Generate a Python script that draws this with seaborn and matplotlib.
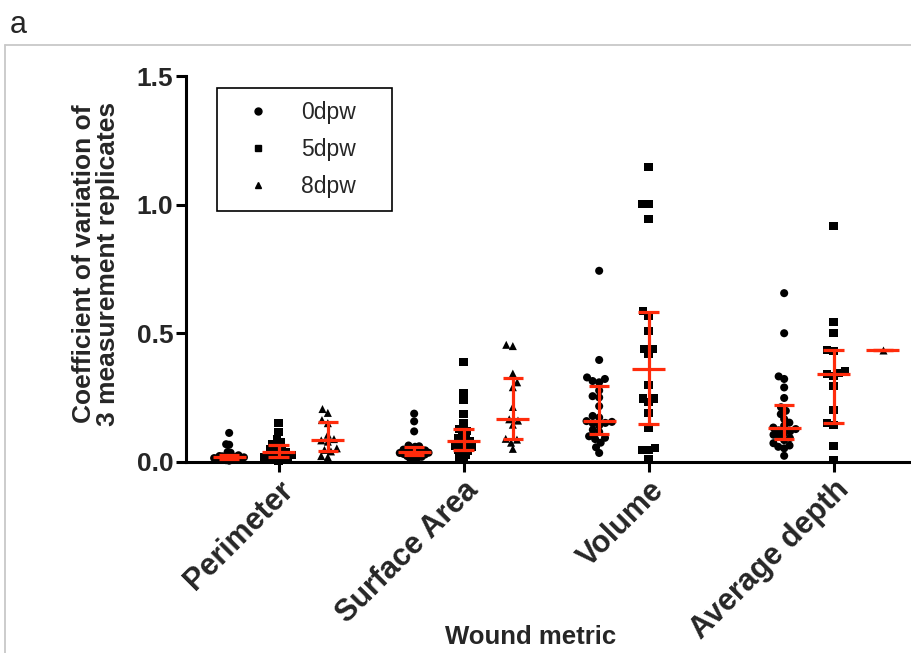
import warnings
import numpy as np
import pandas as pd
import matplotlib
matplotlib.use("Agg")
import matplotlib.pyplot as plt
from matplotlib.lines import Line2D
import seaborn as sns

warnings.filterwarnings("ignore")

# Categories and groups
metrics = ["Perimeter", "Surface Area", "Volume", "Average depth"]
days = ["0dpw", "5dpw", "8dpw"]
day_markers = {"0dpw": "o", "5dpw": "s", "8dpw": "^"}

# Coefficient of variation of 3 replicate measurements, per wound
perimeter_0dpw = [0.112, 0.068, 0.066, 0.038, 0.035, 0.027, 0.025, 0.022, 0.021, 0.019,
                  0.018, 0.017, 0.017, 0.016, 0.014, 0.013, 0.012, 0.011, 0.010, 0.009,
                  0.008, 0.007, 0.006, 0.004]
perimeter_5dpw = [0.150, 0.114, 0.088, 0.075, 0.068, 0.062, 0.055, 0.049, 0.043, 0.038,
                  0.034, 0.030, 0.026, 0.022, 0.019, 0.016, 0.013, 0.011, 0.008, 0.004]
perimeter_8dpw = [0.205, 0.190, 0.162, 0.150, 0.105, 0.088, 0.083, 0.078, 0.052, 0.046,
                  0.040, 0.022, 0.018]

surface_0dpw = [0.187, 0.157, 0.118, 0.063, 0.060, 0.058, 0.052, 0.047, 0.044, 0.041,
                0.039, 0.037, 0.035, 0.034, 0.033, 0.032, 0.030, 0.028, 0.025, 0.022,
                0.019, 0.016, 0.012, 0.008]
surface_5dpw = [0.388, 0.267, 0.241, 0.187, 0.150, 0.126, 0.118, 0.110, 0.100, 0.093,
                0.086, 0.079, 0.071, 0.066, 0.061, 0.056, 0.051, 0.047, 0.042, 0.034,
                0.026, 0.018, 0.010]
surface_8dpw = [0.455, 0.450, 0.343, 0.309, 0.290, 0.213, 0.165, 0.160, 0.144, 0.089,
                0.086, 0.074, 0.050]

volume_0dpw = [0.743, 0.396, 0.328, 0.322, 0.314, 0.309, 0.277, 0.255, 0.250, 0.216,
               0.178, 0.172, 0.158, 0.155, 0.151, 0.149, 0.141, 0.124, 0.116, 0.099,
               0.093, 0.088, 0.074, 0.056, 0.034]
volume_5dpw = [1.147, 1.002, 1.002, 0.944, 0.585, 0.569, 0.507, 0.437, 0.437, 0.420,
               0.298, 0.246, 0.246, 0.233, 0.191, 0.130, 0.052, 0.046, 0.046, 0.011]
volume_8dpw = []

depth_0dpw = [0.656, 0.500, 0.332, 0.322, 0.289, 0.248, 0.212, 0.198, 0.185, 0.166,
              0.152, 0.140, 0.133, 0.127, 0.122, 0.118, 0.112, 0.105, 0.098, 0.092,
              0.084, 0.072, 0.063, 0.058, 0.052, 0.023]
depth_5dpw = [0.918, 0.543, 0.500, 0.436, 0.430, 0.352, 0.347, 0.340, 0.332, 0.293,
              0.202, 0.150, 0.144, 0.060, 0.005]
depth_8dpw = [0.433]

series = {
    ("Perimeter", "0dpw"): perimeter_0dpw,
    ("Perimeter", "5dpw"): perimeter_5dpw,
    ("Perimeter", "8dpw"): perimeter_8dpw,
    ("Surface Area", "0dpw"): surface_0dpw,
    ("Surface Area", "5dpw"): surface_5dpw,
    ("Surface Area", "8dpw"): surface_8dpw,
    ("Volume", "0dpw"): volume_0dpw,
    ("Volume", "5dpw"): volume_5dpw,
    ("Volume", "8dpw"): volume_8dpw,
    ("Average depth", "0dpw"): depth_0dpw,
    ("Average depth", "5dpw"): depth_5dpw,
    ("Average depth", "8dpw"): depth_8dpw,
}

rows = [(m, d, v) for (m, d), vals in series.items() for v in vals]
df = pd.DataFrame(rows, columns=["metric", "day", "cv"])

RED = "#FF2B0B"
W, H = 912, 653
MARKER_SIZE = 5.8   # marker size actually drawn
# Marker size used to pack each swarm; crowded groups pack tighter and overlap
DEFAULT_PACK = 4.6
PACK_SIZE = {
    ("Perimeter", "0dpw"): 2.1,
    ("Perimeter", "5dpw"): 3.5,
    ("Surface Area", "0dpw"): 2.8,
    ("Surface Area", "5dpw"): 3.4,
    ("Average depth", "0dpw"): 4.2,
}

sns.set_theme(style="ticks")
plt.rcParams["font.family"] = ["Liberation Sans", "DejaVu Sans"]

fig = plt.figure(figsize=(W / 100, H / 100), dpi=100)
ax_left, ax_bottom, ax_top = 186, 461.7, 76.3
ax = fig.add_axes([ax_left / W, 1 - ax_bottom / H, (W - ax_left) / W,
                   (ax_bottom - ax_top) / H])

palette = {d: "black" for d in days}
swarm_colls = []
for m in metrics:
    for d in days:
        sub = df[(df["metric"] == m) & (df["day"] == d)]
        if sub.empty:
            continue
        before = set(ax.collections)
        sns.swarmplot(data=sub, x="metric", y="cv", hue="day", order=metrics,
                      hue_order=days, dodge=True, palette=palette,
                      marker=day_markers[d], size=PACK_SIZE.get((m, d), DEFAULT_PACK),
                      linewidth=0, legend=False, clip_on=False, zorder=3, ax=ax)
        swarm_colls += [c for c in ax.collections if c not in before]

ax.set_xlim(-0.5, -0.5 + (W - ax_left) / 185.0)
ax.set_ylim(0, 1.5)

# Fix the swarm layout, then draw the markers at full size (overlapping allowed)
fig.canvas.draw()
for coll in swarm_colls:
    if "draw" in coll.__dict__:
        del coll.draw
    coll.set_sizes([MARKER_SIZE ** 2])

# Median with interquartile range for each group
each_w = 0.8 / len(days)
for i, m in enumerate(metrics):
    for j, d in enumerate(days):
        vals = np.asarray(series[(m, d)], dtype=float)
        if vals.size == 0:
            continue
        q1, med, q3 = np.percentile(vals, [25, 50, 75], method="weibull")
        x = i + (j - (len(days) - 1) / 2) * each_w
        ax.vlines(x, q1, q3, color=RED, lw=2.3, zorder=5, clip_on=False)
        ax.hlines([q1, q3], x - 0.055, x + 0.055, color=RED, lw=2.3,
                  zorder=5, clip_on=False)
        ax.hlines(med, x - 0.09, x + 0.09, color=RED, lw=2.3, zorder=6,
                  clip_on=False)

ax.set_yticks([0, 0.5, 1.0, 1.5])
ax.set_yticklabels(["0.0", "0.5", "1.0", "1.5"])
sns.despine(ax=ax)
for side in ("left", "bottom"):
    ax.spines[side].set_linewidth(2.2)
    ax.spines[side].set_color("black")
ax.tick_params(axis="both", width=2.2, length=7.5, color="black", direction="out")
ax.tick_params(axis="y", pad=1.5, labelsize=19)
ax.tick_params(axis="x", pad=2, labelsize=22)
for lab in ax.get_yticklabels():
    lab.set_fontweight("bold")
for lab in ax.get_xticklabels():
    lab.set_fontweight("bold")
    lab.set_rotation(45)
    lab.set_ha("right")
    lab.set_va("top")
    lab.set_rotation_mode("anchor")

ax.set_ylabel("Coefficient of variation of\n3 measurement replicates",
              fontsize=19, fontweight="bold", linespacing=1.05)
ax.yaxis.set_label_coords((96 - ax_left) / (W - ax_left), 0.514)
ax.yaxis.label.set_va("center")
ax.set_xlabel("Wound metric", fontsize=18.5, fontweight="bold")
ax.xaxis.set_label_coords((531 - ax_left) / (W - ax_left),
                          (ax_bottom - 625) / (ax_bottom - ax_top))
ax.xaxis.label.set_va("top")

handles = [Line2D([], [], marker=day_markers[d], color="black", linestyle="none",
                  markersize=5 if d != "5dpw" else 4.5) for d in days]
leg = fig.legend(handles, days, loc="upper left",
                 bbox_to_anchor=(217 / W, 1 - 209 / H, 175 / W, 121 / H),
                 bbox_transform=fig.transFigure, mode="expand",
                 frameon=True, fancybox=False, shadow=False, fontsize=16.5,
                 borderpad=0.55, labelspacing=0.62, handlelength=2.5,
                 handletextpad=0.63, borderaxespad=0)
leg.get_frame().set_edgecolor("black")
leg.get_frame().set_linewidth(1.2)
leg.get_frame().set_facecolor("white")
leg.get_frame().set_alpha(1)

# Panel frame and panel letter
fig.add_artist(Line2D([5.5 / W, 1], [1 - 44.5 / H, 1 - 44.5 / H],
                      transform=fig.transFigure, color="#c8c8c8", lw=1.3))
fig.add_artist(Line2D([5.5 / W, 5.5 / W], [0, 1 - 44.5 / H],
                      transform=fig.transFigure, color="#c8c8c8", lw=1.3))
fig.text(10 / W, 1 - 10 / H, "a", fontsize=22, ha="left", va="top")

fig.savefig("out.png", dpi=100, facecolor="white")
